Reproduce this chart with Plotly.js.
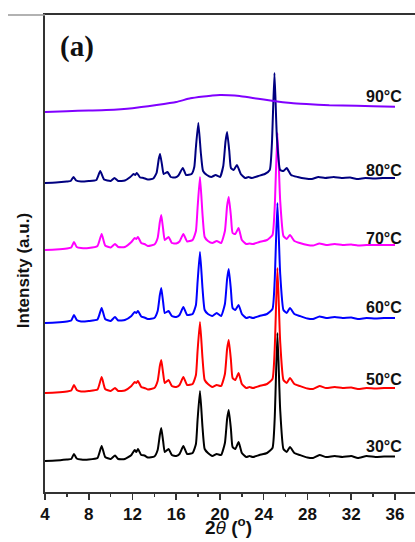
<!DOCTYPE html>
<html>
<head>
<meta charset="utf-8">
<script src="https://cdn.plot.ly/plotly-3.0.1.min.js"></script>
<style>html,body{margin:0;padding:0;background:#fff;}#chart{width:415px;height:542px;}</style>
</head>
<body>
<div id="chart"></div>
<script>
// 2θ sample positions (degrees) shared by the 30–70 °C patterns
const twoTheta = [4.0, 5.0, 6.0, 6.4, 6.65, 6.9, 7.3, 8.0, 8.8, 9.18,
  9.5, 10.0, 10.4, 10.7, 11.3, 11.9, 12.2, 12.35, 12.5, 12.8,
  13.1, 13.4, 14.0, 14.3, 14.5, 14.63, 14.8, 14.95, 15.3, 15.6,
  16.0, 16.3, 16.65, 17.0, 17.5, 17.8, 17.95, 18.17, 18.4, 18.6,
  18.9, 19.3, 19.7, 20.1, 20.45, 20.65, 20.8, 21.0, 21.15, 21.4,
  21.7, 22.0, 22.4, 22.7, 23.0, 23.6, 24.3, 24.8, 25.0, 25.25,
  25.5, 25.8, 26.1, 26.4, 26.8, 27.3, 28.0, 28.5, 29.1, 29.7,
  30.5, 31.2, 32.0, 32.6, 33.4, 34.2, 35.0, 36.0];

// 80 °C pattern peaks are slightly shifted to lower angle
const twoTheta80 = [4.0, 5.0, 6.0, 6.35, 6.6, 6.85, 7.3, 8.0, 8.7, 9.05,
  9.4, 10.0, 10.35, 10.7, 11.3, 11.8, 12.1, 12.25, 12.4, 12.7,
  13.0, 13.4, 13.9, 14.2, 14.4, 14.52, 14.7, 14.85, 15.2, 15.5,
  15.9, 16.2, 16.6, 16.9, 17.4, 17.65, 17.8, 18.02, 18.25, 18.45,
  18.8, 19.2, 19.6, 20.0, 20.3, 20.5, 20.65, 20.85, 21.0, 21.25,
  21.55, 21.9, 22.3, 22.6, 22.9, 23.5, 24.1, 24.55, 24.75, 24.98,
  25.2, 25.5, 25.8, 26.1, 26.5, 27.1, 27.8, 28.4, 29.0, 29.6,
  30.4, 31.1, 31.9, 32.5, 33.3, 34.1, 34.9, 36.0];

const twoTheta90 = [4.0, 6.0, 8.0, 9.6, 12.0, 14.2, 16.0, 17.3, 18.5, 19.3,
  20.0, 20.8, 21.8, 23.0, 24.0, 24.9, 26.5, 27.9, 30.0, 32.5, 34.0, 36.0];

// Intensities (a.u.) above each pattern's own baseline
const int30 = [0, 0.5, 1.5, 2, 7, 2.5, 1.5, 1.5, 3, 15,
  4, 2, 5.5, 2, 2, 6, 11, 9, 12, 6,
  5.5, 3.5, 4.5, 11, 26, 33, 20, 9, 12, 6,
  5, 7, 15, 7, 8, 17, 41, 70, 34, 12,
  8, 5, 7, 6, 18, 42, 51, 32, 14, 12,
  19, 8, 4, 5, 4, 6, 8, 13, 42, 128,
  52, 12, 9, 14, 8, 6, 3.5, 3, 6, 4,
  5, 4, 5, 3, 5, 4, 4.5, 4.5];
const int50 = [0, 0.5, 1.5, 2.5, 8, 3, 1.5, 2, 3.5, 16,
  4, 2, 5, 2, 2.5, 7, 11, 10, 12, 6,
  5, 3.5, 5, 12, 27, 33, 20, 10, 13, 7,
  6, 8, 16, 8, 9, 18, 42, 71, 35, 13,
  9, 6, 8, 7, 19, 44, 53, 33, 15, 13,
  20, 9, 5, 6, 5, 7, 9, 14, 43, 125,
  52, 13, 10, 15, 9, 7, 4.5, 4, 7, 5,
  6, 5, 5.5, 4, 5, 4.5, 5, 5];
const int60 = [0, 0.5, 1.5, 2.5, 8, 3, 1.5, 2, 3.5, 15,
  4, 2, 6, 2.5, 3, 7, 11, 10, 12, 6.5,
  5.5, 4, 5, 12, 28, 35, 21, 10, 12, 7,
  6, 8, 16, 8, 9, 18, 41, 71, 35, 13,
  9, 7, 10, 7, 19, 44, 54, 33, 15, 13,
  18, 9, 5, 6, 5, 7, 9, 14, 42, 120,
  50, 13, 10, 15, 9, 7, 4.5, 4, 6.5, 5,
  6, 5, 5.5, 4, 5, 4.5, 5, 5];
const int70 = [0, 0.5, 1.5, 2.5, 8, 3, 2, 2, 4, 16,
  4.5, 2.5, 6, 3, 3, 8, 12, 11, 13, 7,
  6, 4, 5.5, 12, 28, 35, 21, 10, 13, 7,
  6.5, 8.5, 16, 8.5, 10, 19, 42, 73, 36, 13,
  9, 7, 9, 7, 19, 44, 53, 34, 17, 16,
  22, 10, 6, 6.5, 6, 8, 10, 15, 42, 117,
  50, 14, 11, 15, 9, 7, 5, 4.5, 6.5, 5,
  6, 5, 5.5, 4.5, 5, 5, 5, 5];
const int80 = [0, 0.5, 1.5, 2, 6, 2.5, 1.5, 2, 3, 12,
  3.5, 2, 5, 2, 2.5, 6, 9, 8, 10, 5.5,
  5, 3.5, 4.5, 10, 24, 29, 18, 9, 11, 6,
  5.5, 7.5, 15, 8, 9, 16, 36, 60, 30, 12,
  8, 6, 8, 6, 17, 41, 51, 32, 15, 13,
  18, 9, 5, 6, 5, 7, 9, 13, 40, 110,
  46, 13, 12, 15, 8, 6, 4.5, 4, 6, 5,
  6, 5, 5.5, 4, 5, 4.5, 5, 5];
const int90 = [0, 0.8, 1.5, 2, 3.8, 7, 10, 13.7, 15.5, 16.5,
  17, 16.8, 16, 14, 12.5, 11, 9, 8, 6.8, 6.3, 5.8, 5.3];

// Vertical stacking offsets (a.u.)
const offsets = {"30": 31, "50": 99, "60": 169, "70": 242, "80": 309, "90": 380};
const tempLabels = ["30°C", "50°C", "60°C", "70°C", "80°C", "90°C"];
const colors = ["#000000", "#ff0000", "#0000ff", "#ff00ff", "#000080", "#8000ff"];

const seriesDefs = [
  {k: "30", x: twoTheta, y: int30},
  {k: "50", x: twoTheta, y: int50},
  {k: "60", x: twoTheta, y: int60},
  {k: "70", x: twoTheta, y: int70},
  {k: "80", x: twoTheta80, y: int80},
  {k: "90", x: twoTheta90, y: int90}
];

const traces = seriesDefs.map((s, i) => ({
  type: "scatter", mode: "lines",
  x: s.x, y: s.y.map(v => v + offsets[s.k]),
  line: {color: colors[i], width: 2, shape: "spline", smoothing: 0.45},
  hoverinfo: "skip", showlegend: false
}));

// label vertical centres (a.u.)
const labelY = [46, 113, 185, 254, 322, 396];
const annotations = tempLabels.map((t, i) => ({
  x: 36.82, y: labelY[i], xref: "x", yref: "y",
  xanchor: "right", yanchor: "middle", showarrow: false,
  text: t, font: {family: "Liberation Sans, Arial, sans-serif", size: 16, weight: "bold", color: "#111"}
}));
annotations.push({
  x: 0.0865, y: 0.933, xref: "paper", yref: "paper", xanchor: "center", yanchor: "middle",
  showarrow: false, text: "(a)",
  font: {family: "Liberation Serif, Times New Roman, serif", size: 29, weight: "bold", color: "#111"}
});
annotations.push({
  x: -0.0595, y: 0.465, xref: "paper", yref: "paper", xanchor: "center", yanchor: "middle",
  showarrow: false, textangle: -90, text: "Intensity (a.u.)",
  font: {family: "Liberation Sans, Arial, sans-serif", size: 17, weight: "bold", color: "#111"}
});
annotations.push({
  x: 0.495, y: -0.0713, xref: "paper", yref: "paper", xanchor: "center", yanchor: "middle",
  showarrow: false, text: "<b>2</b><i>θ</i> <b>(<sup>o</sup>)</b>",
  font: {family: "Liberation Sans, Arial, sans-serif", size: 19, color: "#111"}
});

const layout = {
  width: 415, height: 542,
  margin: {l: 45, r: 0, t: 15, b: 50},
  paper_bgcolor: "#ffffff", plot_bgcolor: "#ffffff",
  xaxis: {
    range: [4, 37.83], tick0: 4, dtick: 4,
    ticks: "outside", ticklen: 6, tickwidth: 1.5, tickcolor: "#333",
    minor: {tick0: 4, dtick: 2, ticks: "outside", ticklen: 3, tickwidth: 1.5, tickcolor: "#333"},
    showline: true, linecolor: "#333", linewidth: 2, mirror: true,
    showgrid: false, zeroline: false,
    tickfont: {family: "Liberation Sans, Arial, sans-serif", size: 17, weight: "bold", color: "#111"}
  },
  yaxis: {
    range: [0, 477], showticklabels: false, ticks: "",
    showline: true, linecolor: "#333", linewidth: 2,
    showgrid: false, zeroline: false
  },
  shapes: [{type: "line", xref: "paper", yref: "paper", x0: -0.1, x1: 0, y0: 1, y1: 1,
    line: {color: "#999", width: 1.5}}],
  annotations: annotations
};

Plotly.newPlot("chart", traces, layout, {staticPlot: true, displayModeBar: false});
</script>
</body>
</html>
